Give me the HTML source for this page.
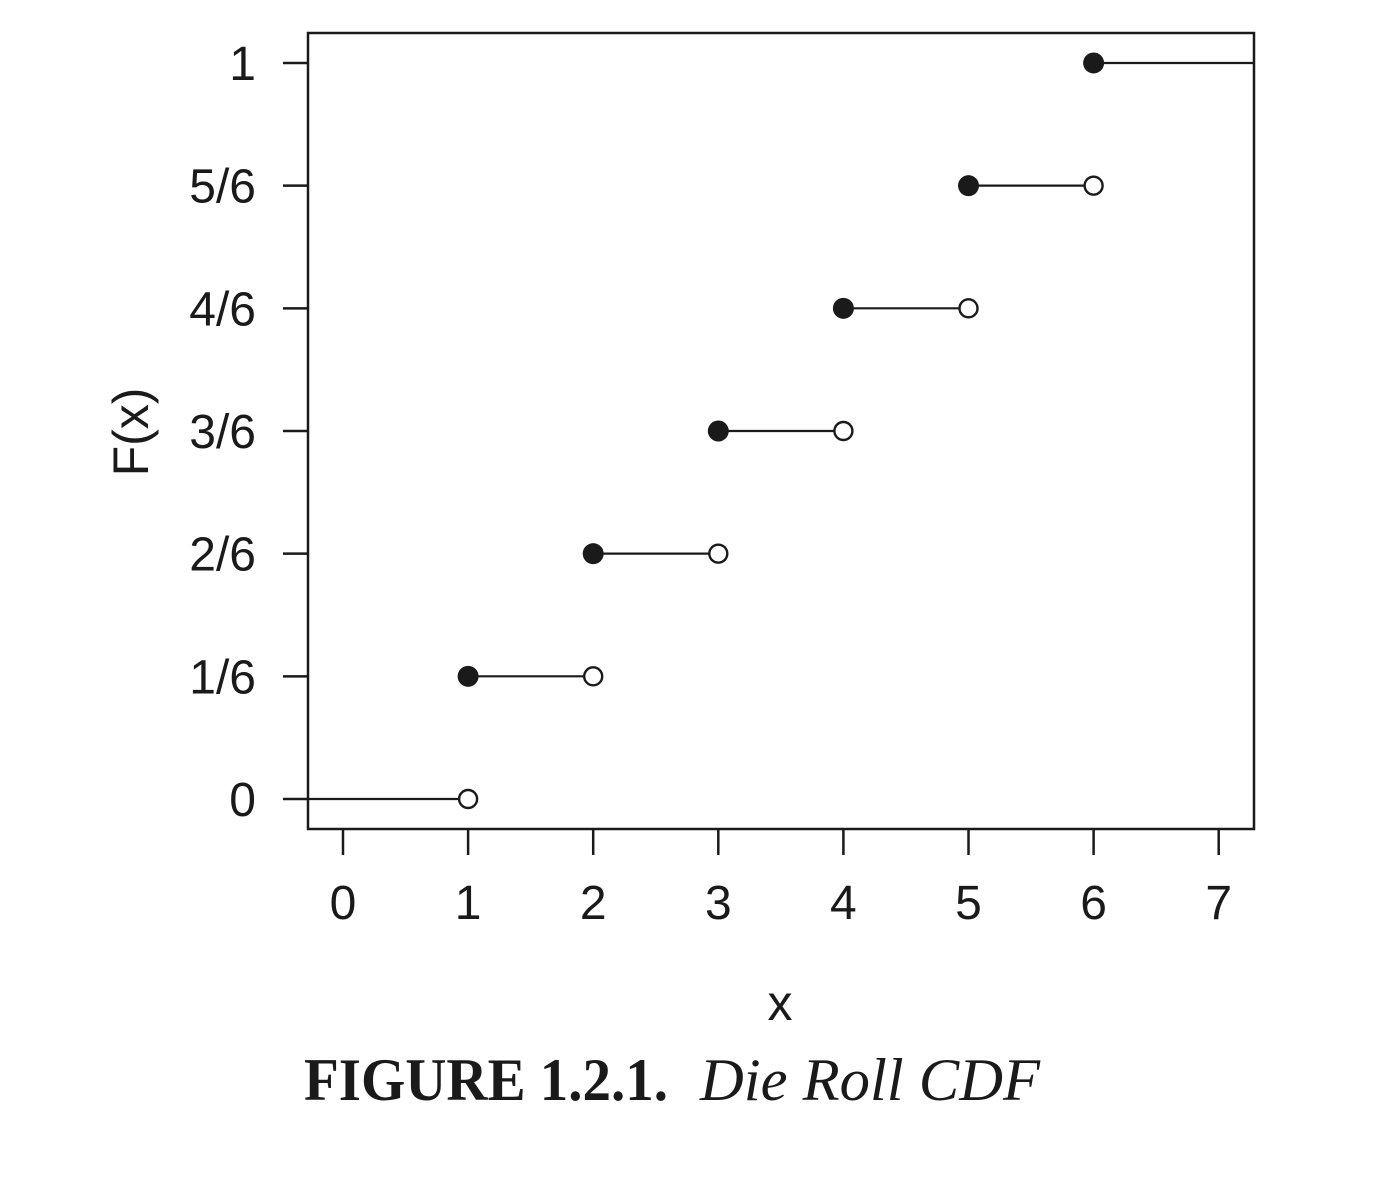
<!DOCTYPE html>
<html><head><meta charset="utf-8"><style>
html,body{margin:0;padding:0;background:#fff;}
svg{display:block;}
text{font-family:"Liberation Sans",sans-serif;fill:#1a1a1a;}
</style></head><body>
<svg id="chart" width="1386" height="1180" viewBox="0 0 1386 1180">
<rect x="308" y="33" width="946" height="796" fill="none" stroke="#1a1a1a" stroke-width="2.5"/>
<g id="axes"></g>
<g id="marks"></g>
<text x="780" y="1020" font-size="50" text-anchor="middle">x</text>
<text transform="translate(148,432) rotate(-90)" font-size="50" text-anchor="middle">F(x)</text>
<text x="304" y="1100" font-size="60" font-weight="bold" textLength="364" lengthAdjust="spacingAndGlyphs" style="font-family:'Liberation Serif',serif">FIGURE 1.2.1.</text>
<text x="700" y="1100" font-size="60" font-style="italic" textLength="340" lengthAdjust="spacingAndGlyphs" style="font-family:'Liberation Serif',serif">Die Roll CDF</text>
</svg>
<script>
const xTicks=[0,1,2,3,4,5,6,7];
const yTicks=[0,1,2,3,4,5,6];
const yTickLabels=["0","1/6","2/6","3/6","4/6","5/6","1"];
const stepStart=[-0.28,1,2,3,4,5,6];
const stepEnd=[1,2,3,4,5,6,7.28];
const stepLevel=[0,1,2,3,4,5,6];
const NS="http://www.w3.org/2000/svg";
const xs=v=>343+v*125.1;
const ys=v=>799-v*122.67;
const axes=document.getElementById('axes'),marks=document.getElementById('marks');
function mk(tag,attrs,parent){const e=document.createElementNS(NS,tag);for(const k in attrs)e.setAttribute(k,attrs[k]);parent.appendChild(e);return e;}
xTicks.forEach(t=>{
 const l=mk('line',{x1:xs(t),x2:xs(t),y1:829,y2:855,stroke:'#1a1a1a','stroke-width':2.5},axes);
 
 
 const tx=mk('text',{x:xs(t),y:919,'font-size':48,'text-anchor':'middle'},axes);tx.textContent=t;
 
 
});
yTicks.forEach((t,i)=>{
 const l=mk('line',{x1:283,x2:308,y1:ys(t),y2:ys(t),stroke:'#1a1a1a','stroke-width':2.5},axes);
 
 
 const tx=mk('text',{x:256,y:ys(t)+17,'font-size':48,'text-anchor':'end'},axes);tx.textContent=yTickLabels[i];
 
 
});
stepLevel.forEach((lv,i)=>{
 const l=mk('line',{x1:xs(stepStart[i]),x2:xs(stepEnd[i]),y1:ys(lv),y2:ys(lv),stroke:'#1a1a1a','stroke-width':2.2},marks);
 
 
 if(i>0){const c=mk('circle',{cx:xs(stepStart[i]),cy:ys(lv),r:10.5,fill:'#1a1a1a'},marks);
  
  }
 if(i<6){const c=mk('circle',{cx:xs(stepEnd[i]),cy:ys(lv),r:9,fill:'#fff',stroke:'#1a1a1a','stroke-width':2.4},marks);
  
  }
});
</script>
</body></html>
